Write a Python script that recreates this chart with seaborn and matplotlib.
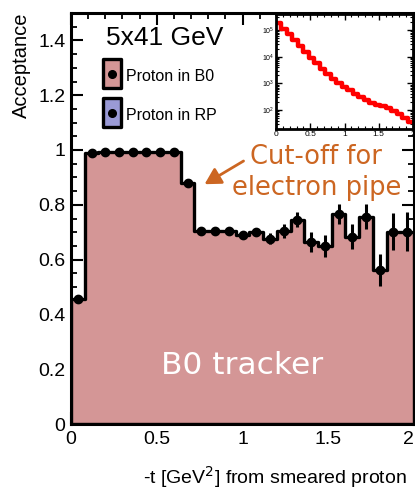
import matplotlib
matplotlib.use("Agg")
import matplotlib.pyplot as plt
import pandas as pd
import seaborn as sns
from matplotlib.patches import Rectangle
from matplotlib.ticker import MultipleLocator, FuncFormatter, LogLocator, NullFormatter

# -t binning (GeV^2)
bin_edges = [0.00, 0.08, 0.16, 0.24, 0.32, 0.40, 0.48, 0.56, 0.64, 0.72,
             0.80, 0.88, 0.96, 1.04, 1.12, 1.20, 1.28, 1.36, 1.44, 1.52,
             1.60, 1.68, 1.76, 1.84, 1.92, 2.00]
bin_centers = [0.04, 0.12, 0.20, 0.28, 0.36, 0.44, 0.52, 0.60, 0.68, 0.76,
               0.84, 0.92, 1.00, 1.08, 1.16, 1.24, 1.32, 1.40, 1.48, 1.56,
               1.64, 1.72, 1.80, 1.88, 1.96]

# B0 acceptance per bin and its uncertainty
acceptance = [0.456, 0.990, 0.994, 0.994, 0.994, 0.994, 0.994, 0.991, 0.878, 0.704,
              0.705, 0.704, 0.690, 0.700, 0.676, 0.704, 0.745, 0.664, 0.651, 0.766,
              0.684, 0.757, 0.562, 0.702, 0.702]
acceptance_err = [0.006, 0.004, 0.004, 0.004, 0.004, 0.004, 0.004, 0.004, 0.005, 0.008,
                  0.008, 0.010, 0.010, 0.015, 0.020, 0.025, 0.027, 0.036, 0.040, 0.036,
                  0.045, 0.045, 0.060, 0.067, 0.070]

# generated -t spectrum (counts per bin, inset)
t_counts = [178000, 112000, 71000, 42000, 25000, 15000, 9300, 5600, 3500, 2300,
            1500, 1050, 760, 550, 400, 300, 230, 180, 160, 138,
            120, 91, 69, 52, 35]

legend_labels = ["Proton in B0", "Proton in RP"]
legend_colors = ["#d49696", "#9a9ad6"]

sns.set_theme(style="ticks")
plt.rcParams["font.family"] = ["Liberation Sans", "DejaVu Sans"]

W, H = 415, 490
fig = plt.figure(figsize=(W / 100, H / 100), dpi=100)


def fig_frac(px, py):
    return px / W, 1 - py / H


# ---- main acceptance panel ----
ax = fig.add_axes([71 / W, 1 - 424 / H, (414 - 71) / W, (424 - 13) / H])
df = pd.DataFrame({"t": bin_centers, "acc": acceptance, "err": acceptance_err})
sns.histplot(data=df, x="t", weights="acc", bins=bin_edges, element="step",
             fill=True, color=legend_colors[0], edgecolor="black", linewidth=2.4,
             alpha=1, ax=ax)
ax.errorbar(df["t"], df["acc"], yerr=df["err"], fmt="o", color="black",
            ms=6, elinewidth=2.2, capsize=0, zorder=5)

ax.set_xlim(0, 2)
ax.set_ylim(0, 1.5)
ax.set_xlabel("")
ax.set_ylabel("")
ax.xaxis.set_major_locator(MultipleLocator(0.5))
ax.xaxis.set_minor_locator(MultipleLocator(0.1))
ax.yaxis.set_major_locator(MultipleLocator(0.2))
ax.yaxis.set_minor_locator(MultipleLocator(0.05))
x_max = 2.0
# the label at the right edge is drawn separately, right-aligned to stay on the canvas
ax.xaxis.set_major_formatter(FuncFormatter(lambda v, p: "" if abs(v - x_max) < 1e-9 else f"{v:g}"))
ax.yaxis.set_major_formatter(FuncFormatter(lambda v, p: f"{v:g}"))
ax.tick_params(which="both", direction="in", top=True, right=True,
               colors="black", labelsize=14)
ax.tick_params(which="major", length=8.5, width=1.5)
ax.tick_params(which="minor", length=4.3, width=1.3)
ax.tick_params(axis="x", pad=5)
ax.tick_params(axis="y", pad=4)
for s in ax.spines.values():
    s.set_linewidth(2.2)
    s.set_color("black")
ax.annotate(f"{x_max:g}", xy=(x_max, 0), xycoords=ax.get_xaxis_transform(),
            xytext=(0, -5), textcoords="offset points", ha="right", va="top",
            fontsize=14, color="black")

fig.text(*fig_frac(21, 13), "Acceptance", rotation=90, ha="center", va="top",
         fontsize=14.5, color="black")
fig.text(*fig_frac(143, 484), "-t [GeV$^2$] from smeared proton", ha="left",
         va="baseline", fontsize=14, color="black")

ax.text(0.547, 1.41, "5x41 GeV", ha="center", va="center", fontsize=19,
        color="black")

# legend boxes with marker
for i, (lab, col) in enumerate(zip(legend_labels, legend_colors)):
    top = 59 + 39 * i
    x0, y0 = fig_frac(103, top + 29)
    fig.patches.append(Rectangle((x0, y0), 18 / W, 29 / H, transform=fig.transFigure,
                                 facecolor=col, edgecolor="black", linewidth=2.4,
                                 joinstyle="round", figure=fig))
    cx, cy = fig_frac(112, top + 15)
    fig.add_artist(plt.Line2D([cx], [cy], marker="o", ms=5.5, color="black",
                              transform=fig.transFigure))
    fig.text(*fig_frac(126, top + 17.5), lab, ha="left", va="center",
             fontsize=11.5, color="black")

# annotations
orange = "#cc6622"
ax.text(1.43, 0.975, "Cut-off for", ha="center", va="center", fontsize=18.5,
        color=orange, family="DejaVu Sans")
ax.text(1.43, 0.862, "electron pipe", ha="center", va="center", fontsize=18.5,
        color=orange, family="DejaVu Sans")
ax.annotate("", xy=(0.765, 0.87), xytext=(1.02, 0.965),
            arrowprops=dict(arrowstyle="-|>,head_length=0.8,head_width=0.45",
                            color=orange, lw=2))
ax.text(1.0, 0.215, "B0 tracker", ha="center", va="center", fontsize=22.5,
        color="white", family="DejaVu Sans")

# ---- inset: -t spectrum ----
axin = fig.add_axes([276 / W, 1 - 129 / H, (413 - 276) / W, (129 - 14) / H])
axin.set_facecolor("white")
sns.histplot(x=bin_centers, weights=t_counts, bins=bin_edges, element="step",
             fill=False, color="red", linewidth=3.2, log_scale=(False, True), ax=axin)
axin.set_xlim(0, 2)
axin.set_ylim(19.5, 4.0e5)
axin.set_xlabel("")
axin.set_ylabel("")
axin.xaxis.set_major_locator(MultipleLocator(0.5))
axin.xaxis.set_minor_locator(MultipleLocator(0.1))
axin.xaxis.set_major_formatter(FuncFormatter(lambda v, p: f"{v:g}"))
axin.yaxis.set_major_locator(LogLocator(base=10, numticks=10))
axin.yaxis.set_minor_locator(LogLocator(base=10, subs=range(2, 10), numticks=10))
axin.yaxis.set_minor_formatter(NullFormatter())
axin.tick_params(which="both", direction="in", top=True, right=True,
                 colors="black", labelsize=6, pad=1.5)
axin.tick_params(axis="y", labelsize=5)
axin.tick_params(which="major", length=4, width=1)
axin.tick_params(which="minor", length=2, width=0.8)
for s in axin.spines.values():
    s.set_linewidth(2)
    s.set_color("black")

fig.savefig("out.png", dpi=100)
